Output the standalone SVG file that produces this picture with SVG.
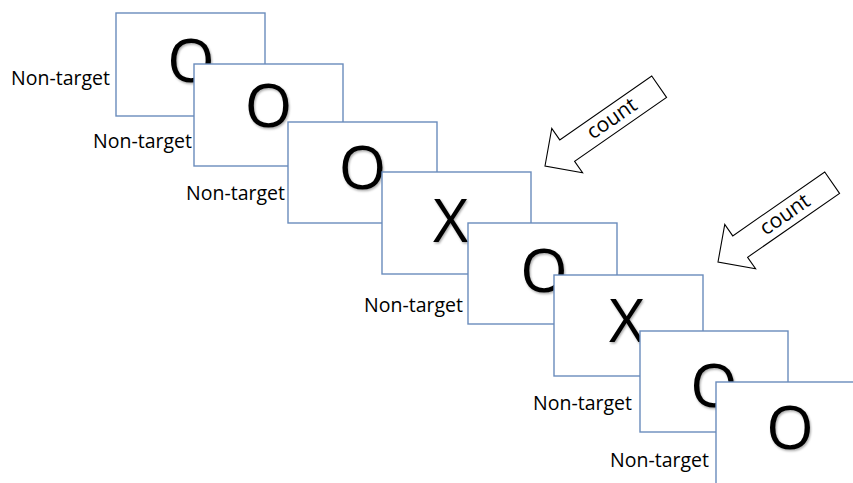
<svg xmlns="http://www.w3.org/2000/svg" width="853" height="483" viewBox="0 0 853 483">
<defs>
<style>
.card{fill:#ffffff;stroke:#6a8cbc;stroke-width:1.4}
.sym{font-family:"Open Sans","Liberation Sans",sans-serif;font-size:61px;fill:#000;text-anchor:middle}
.lbl{font-family:"Open Sans","Liberation Sans",sans-serif;font-size:19.5px;fill:#000;text-anchor:end}
.arrow{fill:#ffffff;stroke:#000;stroke-width:1.1;stroke-linejoin:miter}
.cnt{font-family:"Open Sans","Liberation Sans",sans-serif;font-size:21px;fill:#000;text-anchor:middle}
</style>
<filter id="sh" x="-20%" y="-20%" width="140%" height="140%">
<feDropShadow dx="1" dy="1.5" stdDeviation="1" flood-color="#000" flood-opacity="0.35"/>
</filter>
<path id="blk" d="M0,0 L27,-27 L27,-13 L139,-13 L139,13 L27,13 L27,27 Z"/>
</defs>
<g id="frame1"><rect class="card" x="116" y="13" width="149" height="103"/><text class="sym" x="191" y="82" filter="url(#sh)">O</text><text class="lbl" x="110" y="85">Non-target</text></g>
<g id="frame2"><rect class="card" x="194" y="64" width="149" height="102"/><text class="sym" x="268.5" y="127" filter="url(#sh)">O</text><text class="lbl" x="192" y="148">Non-target</text></g>
<g id="frame3"><rect class="card" x="288" y="122" width="149" height="101"/><text class="sym" x="362.5" y="189" filter="url(#sh)">O</text><text class="lbl" x="285" y="200">Non-target</text></g>
<g id="frame4"><rect class="card" x="382" y="172" width="149" height="102"/><text class="sym" x="450.5" y="241.5" filter="url(#sh)">X</text></g>
<g id="frame5"><rect class="card" x="468" y="223" width="149" height="101"/><text class="sym" x="544" y="292" filter="url(#sh)">O</text><text class="lbl" x="463" y="312">Non-target</text></g>
<g id="frame6"><rect class="card" x="554" y="275" width="149" height="101"/><text class="sym" x="626.5" y="341.5" filter="url(#sh)">X</text></g>
<g id="frame7"><rect class="card" x="640" y="331" width="148" height="101"/><text class="sym" x="714" y="407" filter="url(#sh)">O</text><text class="lbl" x="632" y="410">Non-target</text></g>
<g id="frame8"><rect class="card" x="716" y="382" width="149" height="102"/><text class="sym" x="790" y="449" filter="url(#sh)">O</text><text class="lbl" x="709" y="467">Non-target</text></g>
<g id="connectors">
<g id="count1" transform="translate(545,166) rotate(-34.8)"><use href="#blk" class="arrow"/><text class="cnt" x="82" y="6">count</text></g>
<g id="count2" transform="translate(718,262) rotate(-34.8)"><use href="#blk" class="arrow"/><text class="cnt" x="82" y="6">count</text></g>
</g>
</svg>
